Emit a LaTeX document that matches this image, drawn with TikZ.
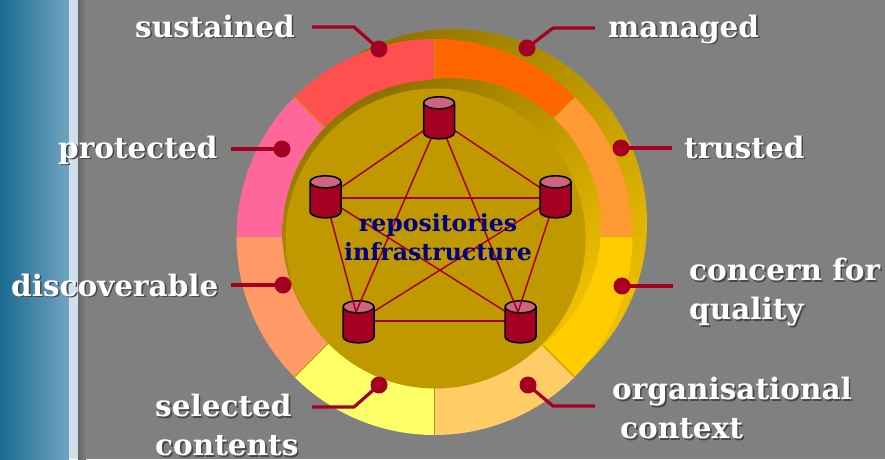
\documentclass[tikz,border=0pt]{standalone}
\usepackage{xcolor}
\usepackage{fontspec}
\setmainfont{DejaVu Serif}
\usepackage{tikz}
\usetikzlibrary{shapes.geometric, calc}
\definecolor{slidegray}{RGB}{128, 128, 128}
\definecolor{edgegray}{RGB}{104, 104, 104}
\definecolor{shadowgray}{RGB}{72, 72, 72}
\definecolor{claret}{RGB}{165, 0, 33}
\definecolor{claretlight}{RGB}{204, 102, 128}
\definecolor{golddark}{RGB}{140, 112, 0}
\definecolor{goldmid}{RGB}{192, 152, 0}
\definecolor{goldlight}{RGB}{240, 192, 0}
\definecolor{navytext}{RGB}{0, 0, 128}
\definecolor{stripdark}{RGB}{26, 106, 146}
\definecolor{striplight}{RGB}{112, 165, 193}
\definecolor{stripedge}{RGB}{208, 224, 234}
\definecolor{segorange}{RGB}{255, 102, 0}
\definecolor{segred}{RGB}{255, 80, 80}
\definecolor{segpink}{RGB}{255, 102, 153}
\definecolor{segsalmon}{RGB}{255, 153, 102}
\definecolor{segyellow}{RGB}{255, 255, 102}
\definecolor{segsand}{RGB}{255, 204, 102}
\definecolor{segamber}{RGB}{255, 204, 0}
\definecolor{segapricot}{RGB}{255, 153, 51}
\newcommand{\shadowed}[1]{\rlap{\raisebox{-1.6pt}{\hspace{1.6pt}\color{shadowgray}#1}}#1}
\begin{document}
\begin{tikzpicture}[
        x=1pt, y=-1pt,
        tag/.style={anchor=base west, inner sep=0pt, text=white, font=\fontsize{29.5}{39}\selectfont\bfseries, align=left},
        centertext/.style={inner sep=0pt, text=navytext, font=\fontsize{23.6}{29}\selectfont\bfseries, align=center},
        dot/.style={circle, fill=claret, minimum size=17pt, inner sep=0pt},
        leader/.style={draw=claret, line width=3.2pt},
        link/.style={draw=claret, line width=1.5pt},
        goldshade/.style={top color=golddark, bottom color=goldlight, shading angle=45},
        store/.style={cylinder, shape border rotate=90, aspect=0.6, draw=black, line width=1.5pt, cylinder uses custom fill, cylinder body fill=claret, cylinder end fill=claretlight, minimum width=31pt, minimum height=42pt, inner sep=10pt}
    ]
        \useasboundingbox (0,0) rectangle (885,459);
        % background
        \fill[slidegray] (0,0) rectangle (885,459);
        \shade[left color=edgegray, right color=slidegray] (78,0) rectangle (86,459);
        \shade[left color=stripdark, right color=striplight] (0,0) rectangle (69,459);
        \fill[stripedge] (69,0) rectangle (78,459);

        % back crescent
        \shade[goldshade] (453,223) circle (194pt);

        % ring segments
        \coordinate (ringc) at (434.5,237);
        \fill[segapricot] (ringc) -- ++(0:198pt) arc (0:45:198pt) -- cycle;
        \fill[segorange] (ringc) -- ++(45:198pt) arc (45:90:198pt) -- cycle;
        \fill[segred] (ringc) -- ++(90:198pt) arc (90:135:198pt) -- cycle;
        \fill[segpink] (ringc) -- ++(135:198pt) arc (135:180:198pt) -- cycle;
        \fill[segsalmon] (ringc) -- ++(180:198pt) arc (180:225:198pt) -- cycle;
        \fill[segyellow] (ringc) -- ++(225:198pt) arc (225:270:198pt) -- cycle;
        \fill[segsand] (ringc) -- ++(270:198pt) arc (270:315:198pt) -- cycle;
        \fill[segamber] (ringc) -- ++(315:198pt) arc (315:360:198pt) -- cycle;
        \foreach \ang in {45,90,135,225,270,315}
            \draw[goldmid, line width=0.8pt] (ringc) -- ++(\ang:198pt);

        % inner discs
        \shade[top color=golddark, middle color=goldmid, bottom color=goldmid] (435,233) circle (152.5pt);
        \shade[goldshade] (452,227) circle (149pt);
        \fill[goldmid] (435.5,238.5) circle (150pt);

        % hubs
        \coordinate (hubtop) at (439,120);
        \coordinate (hubleft) at (325.5,198);
        \coordinate (hubright) at (555.5,198);
        \coordinate (hubbl) at (358.5,321);
        \coordinate (hubbr) at (520.5,321);
        \coordinate (portbl) at (356,312);
        \coordinate (portbr) at (518,312);

        \draw[link] (hubleft) -- (hubright);
        \draw[link] (hubright) -- (hubbl);
        \draw[link] (hubleft) -- (hubbr);
        \draw[link] (hubbl) -- (hubbr);
        \node[store] (storebl) at (358.5,328) {};
        \node[store] (storebr) at (520.5,328) {};
        \draw[link] (hubtop) -- (hubleft);
        \draw[link] (hubtop) -- (hubright);
        \draw[link] (hubtop) -- (portbl);
        \draw[link] (hubtop) -- (portbr);
        \draw[link] (hubleft) -- (portbl);
        \draw[link] (hubright) -- (portbr);
        \node[store] (storetop) at (439,124) {};
        \node[store] (storeleft) at (325.5,203) {};
        \node[store] (storeright) at (555.5,203) {};

        \node[centertext] (center) at (438,237) {repositories\\infrastructure};

        % dots
        \node[dot] (dotsustained) at (379,49) {};
        \node[dot] (dotmanaged) at (527,48) {};
        \node[dot] (dotprotected) at (282,149) {};
        \node[dot] (dottrusted) at (621,148) {};
        \node[dot] (dotdiscover) at (283,285) {};
        \node[dot] (dotconcern) at (622,286) {};
        \node[dot] (dotselected) at (379,385) {};
        \node[dot] (dotorganis) at (528,385) {};

        % leaders
        \coordinate (endsustained) at (312,27);
        \coordinate (endmanaged) at (595,28);
        \coordinate (endprotected) at (231,149);
        \coordinate (endtrusted) at (672,148);
        \coordinate (enddiscover) at (231,285);
        \coordinate (endconcern) at (673,286);
        \coordinate (endselected) at (312,407);
        \coordinate (endorganis) at (595,406);
        \draw[leader] (endsustained) -- ++(42,0) -- (dotsustained.center);
        \draw[leader] (endmanaged) -- ++(-42,0) -- (dotmanaged.center);
        \draw[leader] (endprotected) -- (dotprotected.center);
        \draw[leader] (endtrusted) -- (dottrusted.center);
        \draw[leader] (enddiscover) -- (dotdiscover.center);
        \draw[leader] (endconcern) -- (dotconcern.center);
        \draw[leader] (endselected) -- ++(42,0) -- (dotselected.center);
        \draw[leader] (endorganis) -- ++(-42,0) -- (dotorganis.center);

        % labels
        \node[tag] (tagsustained) at (135,37) {\shadowed{sustained}};
        \node[tag] (tagmanaged) at (608,37) {\shadowed{managed}};
        \node[tag] (tagprotected) at (58,158) {\shadowed{protected}};
        \node[tag] (tagtrusted) at (684,158) {\shadowed{trusted}};
        \node[tag] (tagdiscover) at (11,296) {\shadowed{discoverable}};
        \node[tag, anchor=west] (tagconcern) at (689,293) {\shadowed{concern for}\\\shadowed{quality}};
        \node[tag, anchor=west] (tagselected) at (155,426) {\shadowed{selected}\\\shadowed{contents}};
        \node[tag, anchor=west] (tagorganis) at (612,409) {\shadowed{organisational}\\\hspace{8pt}\shadowed{context}};
\end{tikzpicture}
\end{document}
